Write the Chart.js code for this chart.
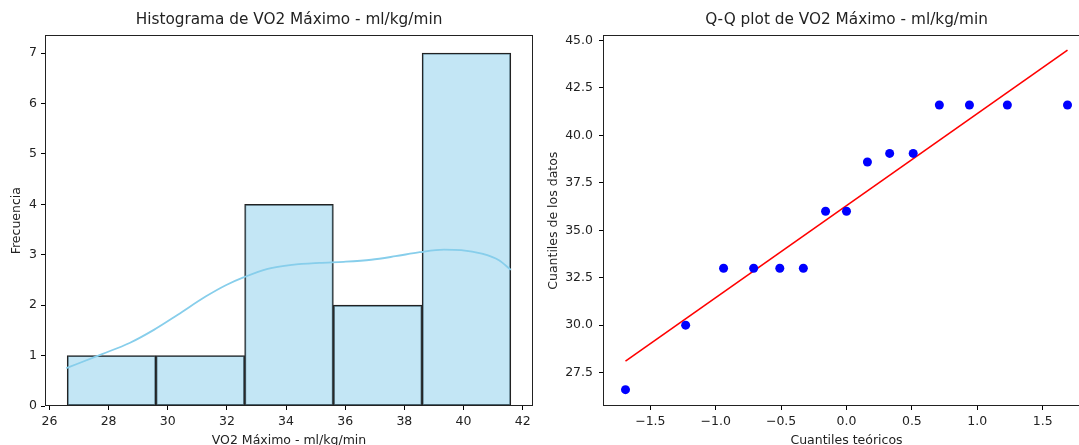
<!DOCTYPE html>
<html>
<head>
<meta charset="utf-8">
<script src="https://cdn.jsdelivr.net/npm/chart.js@4.4.0/dist/chart.umd.min.js"></script>
<style>
  html, body { margin:0; padding:0; background:#fff; overflow:hidden; width:1079px; height:445px; }
  #hist { position:absolute; left:0; top:0; }
  #qq { position:absolute; left:540px; top:0; }
</style>
</head>
<body>
<canvas id="hist" width="545" height="452"></canvas>
<canvas id="qq" width="550" height="452"></canvas>
<script>
// histogram data (bin edges + counts)
var binEdges=[26.6,29.6,32.6,35.6,38.6,41.6];
var binCounts=[1,1,4,2,7];
// kde curve
var kdeX=[26.57,27.78,28.71,29.53,30.34,31.28,31.98,32.56,33.38,34.2,35.13,35.95,36.88,37.7,38.52,39.34,39.92,40.62,41.2,41.6];
var kdeY=[0.75,1.03,1.25,1.51,1.81,2.17,2.4,2.55,2.72,2.8,2.84,2.86,2.9,2.97,3.05,3.1,3.09,3.02,2.89,2.7];
// Q-Q plot data
var theoQuant=[-1.69,-1.23,-0.94,-0.71,-0.51,-0.33,-0.16,0,0.16,0.33,0.51,0.71,0.94,1.23,1.69];
var dataQuant=[26.6,30.0,33.0,33.0,33.0,33.0,36.0,36.0,38.6,39.05,39.05,41.6,41.6,41.6,41.6];
var fitX=[-1.69,1.69];
var fitY=[28.1,44.49];

Chart.defaults.font.family="'DejaVu Sans', sans-serif";
Chart.defaults.font.size=12.5;
Chart.defaults.color="#222";
Chart.defaults.animation=false;

var frame={
  id:'frame',
  afterDatasetsDraw:function(chart){
    var a=chart.chartArea, c=chart.ctx;
    c.save();
    c.strokeStyle="#222";
    c.lineWidth=1;
    c.strokeRect(Math.round(a.left)+0.5,Math.round(a.top)+0.5,Math.round(a.right)-Math.round(a.left)-1,Math.round(a.bottom)-Math.round(a.top)-1);
    c.restore();
  }
};

function tickGrid(){
  return {display:true,offset:false,drawOnChartArea:false,drawTicks:true,tickLength:4,color:"#000",lineWidth:1};
}
function titleOpts(txt){
  return {display:true,text:txt,fullSize:false,color:"#222",font:{size:15.3,weight:'normal'},padding:{top:11,bottom:6}};
}

var histBars=[];
for(var i=0;i<binCounts.length;i++)
{
  histBars.push({x:binEdges[i]+(binEdges[i+1]-binEdges[i])/2,y:binCounts[i]});
}
var kdePts=[];
for(var j=0;j<kdeX.length;j++)
{
  kdePts.push({x:kdeX[j],y:kdeY[j]});
}

new Chart(document.getElementById("hist"),{
  type:'bar',
  data:{
    datasets:[{
      type:'line',
      data:kdePts,
      borderColor:"#87ceeb",
      borderWidth:1.8,
      pointRadius:0,
      cubicInterpolationMode:'monotone',
      order:0
    },{
      type:'bar',
      data:histBars,
      backgroundColor:"rgba(135,206,235,0.5)",
      borderColor:"#222",
      borderWidth:1.2,
      borderSkipped:false,
      barThickness:'flex',
      barPercentage:1,
      categoryPercentage:1,
      order:1
    }]
  },
  options:{
    responsive:false,
    layout:{autoPadding:false,padding:{left:0,right:12,top:0,bottom:0}},
    plugins:{legend:{display:false},tooltip:{enabled:false},title:titleOpts("Histograma de VO2 Máximo - ml/kg/min")},
    scales:{
      x:{
        type:'linear',min:25.85,max:42.35,offset:false,
        ticks:{stepSize:2,includeBounds:false,padding:4,maxRotation:0},
        grid:tickGrid(),border:{display:false},
        title:{display:true,text:"VO2 Máximo - ml/kg/min",padding:{top:4,bottom:4}},
        afterFit:function(s){s.height=46;}
      },
      y:{
        min:0,max:7.35,
        ticks:{stepSize:1,includeBounds:false,padding:4},
        grid:tickGrid(),border:{display:false},
        title:{display:true,text:"Frecuencia",padding:{top:9,bottom:4}},
        afterFit:function(s){s.width=45;}
      }
    }
  },
  plugins:[frame]
});

var qqPts=[];
for(var k=0;k<theoQuant.length;k++)
{
  qqPts.push({x:theoQuant[k],y:dataQuant[k]});
}
var fitPts=[];
for(var m=0;m<fitX.length;m++)
{
  fitPts.push({x:fitX[m],y:fitY[m]});
}

function fmt1(v){ return v.toFixed(1).replace('-','\u2212'); }

new Chart(document.getElementById("qq"),{
  type:'scatter',
  data:{
    datasets:[{
      data:fitPts,
      showLine:true,
      borderColor:"#ff0000",
      borderWidth:1.6,
      pointRadius:0,
      order:1
    },{
      data:qqPts,
      backgroundColor:"#0000ff",
      borderWidth:0,
      pointRadius:4.5,
      order:0
    }]
  },
  options:{
    responsive:false,
    layout:{autoPadding:false,padding:{left:0,right:0,top:0,bottom:0}},
    plugins:{legend:{display:false},tooltip:{enabled:false},title:titleOpts("Q-Q plot de VO2 Máximo - ml/kg/min")},
    scales:{
      x:{
        type:'linear',min:-1.862,max:1.862,
        ticks:{stepSize:0.5,includeBounds:false,padding:4,maxRotation:0,callback:function(v){return fmt1(v);}},
        grid:tickGrid(),border:{display:false},
        title:{display:true,text:"Cuantiles teóricos",padding:{top:4,bottom:4}},
        afterFit:function(s){s.height=46;}
      },
      y:{
        min:25.74,max:45.27,
        ticks:{stepSize:2.5,includeBounds:false,padding:6,callback:function(v){return fmt1(v);}},
        grid:tickGrid(),border:{display:false},
        title:{display:true,text:"Cuantiles de los datos",padding:{top:6,bottom:4}},
        afterFit:function(s){s.width=63;}
      }
    }
  },
  plugins:[frame]
});
</script>
</body>
</html>
